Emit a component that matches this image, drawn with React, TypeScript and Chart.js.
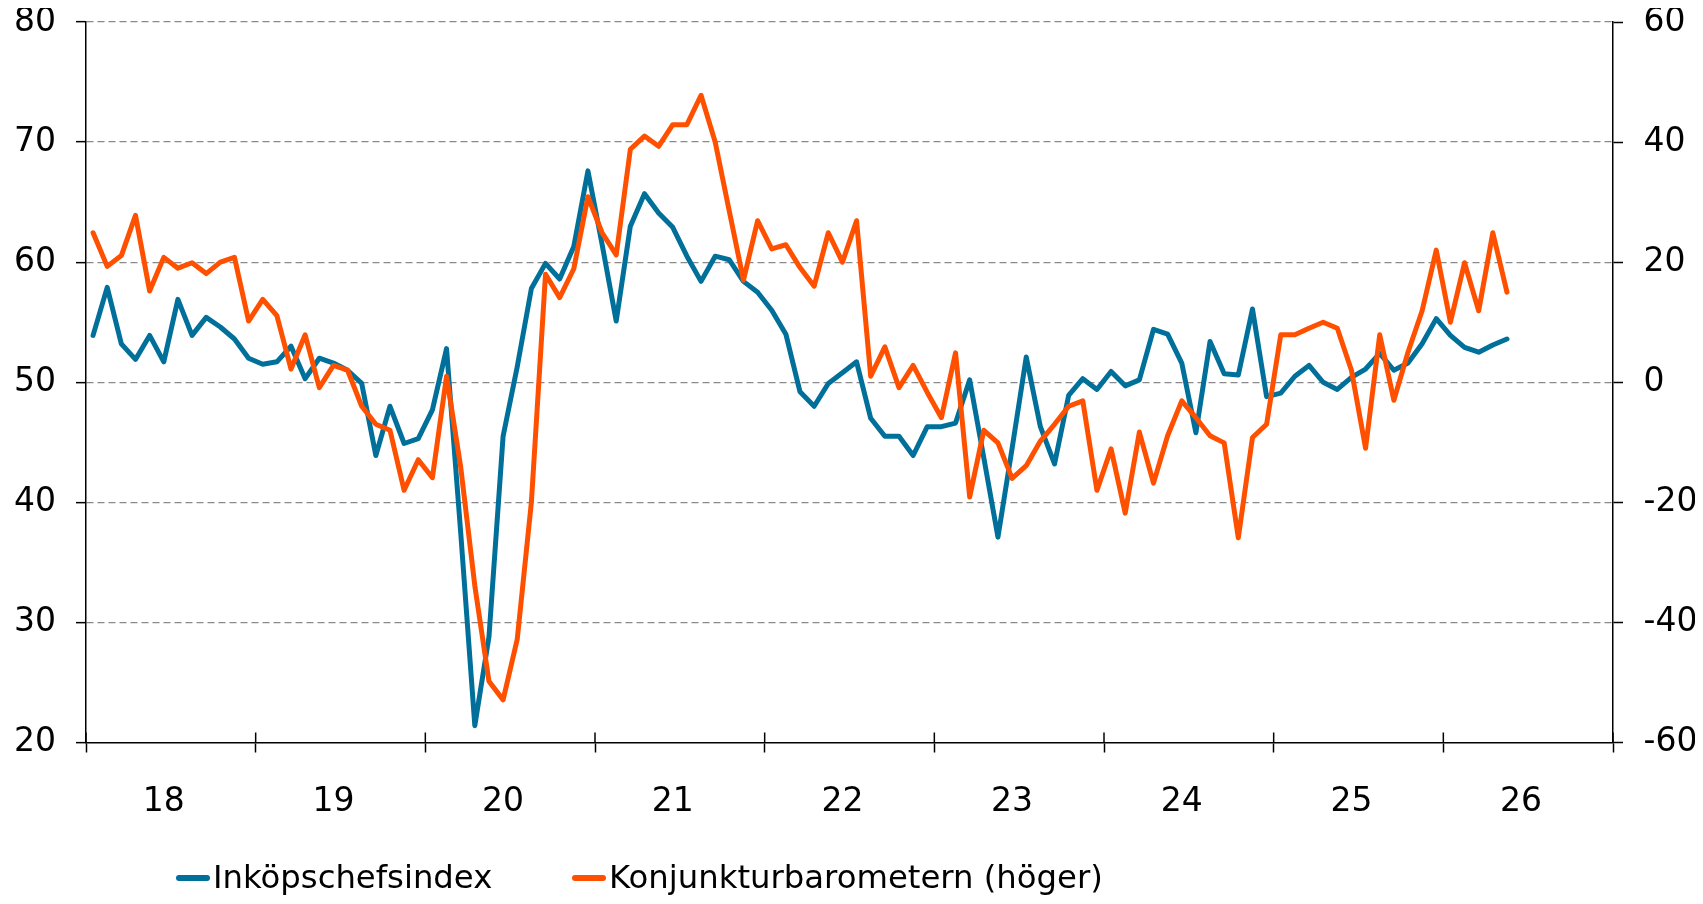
import React, { useEffect, useRef } from "react";
import { Chart, registerables } from "chart.js";

Chart.register(...registerables);

// ---- Data -------------------------------------------------------------
const YEAR_LABELS = ["18", "19", "20", "21", "22", "23", "24", "25", "26"];

// Inköpschefsindex (left axis), monthly Jan 2018 – May 2026
const PMI = [
  // 2018
  53.9, 57.9, 53.2, 51.9, 53.9, 51.7, 56.9, 53.9, 55.4, 54.6, 53.6, 52.0,
  // 2019
  51.5, 51.7, 53.0, 50.3, 52.0, 51.6, 51.0, 49.9, 43.9, 48.0, 44.9, 45.3,
  // 2020
  47.7, 52.8, 37.5, 21.4, 28.8, 45.5, 51.3, 57.8, 59.9, 58.6, 61.3, 67.6,
  // 2021
  61.5, 55.1, 63.0, 65.7, 64.1, 62.9, 60.5, 58.4, 60.5, 60.2, 58.4, 57.5,
  // 2022
  56.0, 54.0, 49.2, 48.0, 49.9, 50.8, 51.7, 47.0, 45.5, 45.5, 43.9, 46.3,
  // 2023
  46.3, 46.6, 50.2, 43.7, 37.1, 44.5, 52.1, 46.3, 43.2, 48.9, 50.3, 49.4,
  // 2024
  50.9, 49.7, 50.2, 54.4, 54.0, 51.6, 45.8, 53.4, 50.7, 50.6, 56.1, 48.8,
  // 2025
  49.1, 50.5, 51.4, 50.0, 49.4, 50.4, 51.1, 52.4, 51.0, 51.6, 53.2, 55.3,
  // 2026
  53.9, 52.9, 52.5, 53.1, 53.6,
];

// Konjunkturbarometern (right axis), monthly Jan 2018 – May 2026
const KONJ = [
  // 2018
  24.9, 19.3, 21.1, 27.8, 15.2, 20.8, 19.0, 19.9, 18.1, 20.0, 20.8, 10.2,
  // 2019
  13.8, 11.1, 2.2, 7.9, -0.9, 2.8, 2.0, -4.0, -7.0, -8.0, -18.0, -12.9,
  // 2020
  -15.9, 1.0, -14.1, -33.9, -49.8, -52.9, -42.8, -20.0, 18.0, 14.1, 18.9, 30.9,
  // 2021
  24.9, 21.2, 38.8, 41.0, 39.3, 42.9, 42.9, 47.8, 40.0, 28.5, 17.0, 26.9,
  // 2022
  22.2, 22.9, 19.1, 16.0, 24.9, 20.0, 26.9, 1.0, 5.9, -0.9, 2.8, -1.7,
  // 2023
  -5.9, 4.9, -19.1, -8.0, -10.1, -16.0, -13.9, -9.8, -7.0, -4.0, -3.1, -18.0,
  // 2024
  -11.1, -21.8, -8.3, -16.8, -8.9, -3.1, -5.9, -8.9, -10.1, -25.9, -9.2, -7.0,
  // 2025
  7.9, 7.9, 9.0, 10.0, 9.0, 2.0, -11.0, 7.9, -3.0, 5.0, 11.9, 22.0,
  // 2026
  10.0, 19.9, 11.9, 24.9, 15.0,
];

const SERIES_NAMES = ["Inköpschefsindex", "Konjunkturbarometern (höger)"];
const COLORS = ["#00709b", "#ff5000"];

const LEFT_TICKS = { min: 20, max: 80, step: 10 };
const RIGHT_TICKS = { min: -60, max: 60, step: 20 };

// month index -> position on the month axis (centre of the month)
const toPoints = (vals: number[]) => vals.map((v, i) => ({ x: i + 0.5, y: v }));

const FONT = "'DejaVu Sans', Verdana, sans-serif";
const MONTHS_TOTAL = YEAR_LABELS.length * 12;

const CANVAS_W = 1687;
const CANVAS_H = 856;
const PLOT_BOTTOM = 734.5;
const LEGEND_H = 32;

const innerTickPlugin = {
  id: "innerTicks",
  afterDraw(chart: any) {
    const xs = chart.scales.x;
    const { ctx, chartArea } = chart;
    ctx.save();
    ctx.strokeStyle = "#000";
    ctx.lineWidth = 1.5;
    for (const t of xs.ticks) {
      if (t.value % 12 === 0) {
        const px = xs.getPixelForValue(t.value);
        ctx.beginPath();
        ctx.moveTo(px, chartArea.bottom - 10);
        ctx.lineTo(px, chartArea.bottom);
        ctx.stroke();
      }
    }
    ctx.restore();
  },
};

export default function App() {
  const ref = useRef<HTMLCanvasElement | null>(null);

  useEffect(() => {
    if (!ref.current) return;
    const chart = new Chart(ref.current, {
      type: "line",
      data: {
        datasets: [
          {
            label: SERIES_NAMES[0],
            data: toPoints(PMI),
            borderColor: COLORS[0],
            backgroundColor: COLORS[0],
            borderWidth: 5,
            pointRadius: 0,
            borderJoinStyle: "round",
            borderCapStyle: "round",
            yAxisID: "y",
            order: 2,
          },
          {
            label: SERIES_NAMES[1],
            data: toPoints(KONJ),
            borderColor: COLORS[1],
            backgroundColor: COLORS[1],
            borderWidth: 5,
            pointRadius: 0,
            borderJoinStyle: "round",
            borderCapStyle: "round",
            yAxisID: "y1",
            order: 1,
          },
        ],
      },
      options: {
        responsive: false,
        animation: false,
        layout: { padding: { top: 14, left: 0, right: 0, bottom: 0 } },
        plugins: { legend: { display: false }, tooltip: { enabled: false } },
        scales: {
          x: {
            type: "linear",
            min: 0,
            max: MONTHS_TOTAL,
            afterBuildTicks: (scale: any) => {
              const t: { value: number }[] = [];
              for (let y = 0; y <= YEAR_LABELS.length; y++) {
                t.push({ value: y * 12 });
                if (y < YEAR_LABELS.length) t.push({ value: y * 12 + 5.5 });
              }
              scale.ticks = t;
            },
            afterFit: (scale: any) => {
              scale.height = CANVAS_H - PLOT_BOTTOM;
              scale.paddingLeft = 0;
              scale.paddingRight = 0;
            },
            grid: {
              drawOnChartArea: false,
              drawTicks: true,
              tickLength: 10,
              tickWidth: 1.5,
              tickColor: (c: any) =>
                c.tick && c.tick.value % 12 === 0 ? "#000" : "rgba(0,0,0,0)",
            },
            border: { display: true, color: "#000", width: 1.5 },
            ticks: {
              autoSkip: false,
              maxRotation: 0,
              padding: 30,
              color: "#000",
              font: { family: FONT, size: 33 },
              callback: (v: any) => {
                const n = Number(v);
                if (n % 12 === 5.5) return YEAR_LABELS[(n - 5.5) / 12];
                return "";
              },
            },
          },
          y: {
            position: "left",
            min: LEFT_TICKS.min,
            max: LEFT_TICKS.max,
            afterFit: (scale: any) => {
              scale.width = 78;
              scale.paddingTop = 0;
              scale.paddingBottom = 0;
            },
            grid: {
              color: (c: any) =>
                c.tick && c.tick.value === LEFT_TICKS.min ? "rgba(0,0,0,0)" : "#8a8a8a",
              lineWidth: 1.3,
              drawTicks: true,
              tickLength: 10,
              tickWidth: 1.5,
              tickColor: "#000",
            },
            border: { display: true, color: "#000", width: 1.5, dash: [7, 4] },
            ticks: {
              stepSize: LEFT_TICKS.step,
              padding: 20,
              color: "#000",
              font: { family: FONT, size: 33 },
            },
          },
          y1: {
            position: "right",
            min: RIGHT_TICKS.min,
            max: RIGHT_TICKS.max,
            afterFit: (scale: any) => {
              scale.width = CANVAS_W - 1605;
              scale.paddingTop = 0;
              scale.paddingBottom = 0;
            },
            grid: {
              drawOnChartArea: false,
              drawTicks: true,
              tickLength: 10,
              tickWidth: 1.5,
              tickColor: "#000",
            },
            border: { display: true, color: "#000", width: 1.5 },
            ticks: {
              stepSize: RIGHT_TICKS.step,
              padding: 20.5,
              color: "#000",
              font: { family: FONT, size: 33 },
            },
          },
        },
      },
      plugins: [innerTickPlugin],
    });
    return () => chart.destroy();
  }, []);

  const legendItem = (i: number, left: number) => (
    <div
      key={i}
      style={{
        position: "absolute",
        left,
        top: 0,
        height: 27,
        lineHeight: "27px",
        fontFamily: FONT,
        fontSize: 32.3,
        color: "#000",
        whiteSpace: "nowrap",
      }}
    >
      <span
        style={{
          display: "inline-block",
          width: 34,
          height: 6,
          borderRadius: 3,
          background: COLORS[i],
          marginRight: 3,
          verticalAlign: "middle",
          position: "relative",
          top: -1,
        }}
      />
      <span>{SERIES_NAMES[i]}</span>
    </div>
  );

  return (
    <div style={{ width: CANVAS_W }}>
      <canvas
        ref={ref}
        width={CANVAS_W}
        height={CANVAS_H}
        style={{ display: "block" }}
      />
      <div style={{ position: "relative", height: LEGEND_H }}>
        {legendItem(0, 168)}
        {legendItem(1, 564)}
      </div>
    </div>
  );
}
